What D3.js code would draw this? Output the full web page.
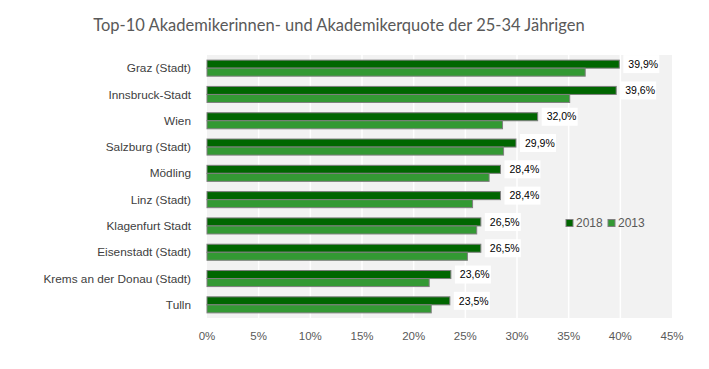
<!DOCTYPE html>
<html lang="de">
  <head>
    <meta charset="utf-8" />
    <style>
      html,
      body {
        margin: 0;
        background: #fff;
      }

      svg {
        display: block;
      }
    </style>
    <script src="https://d3js.org/d3.v7.min.js"></script>
  </head>
  <body>
    <svg width="709" height="369"></svg>

    <script>
      var categories = ['Graz (Stadt)', 'Innsbruck-Stadt', 'Wien', 'Salzburg (Stadt)', 'Mödling',
        'Linz (Stadt)', 'Klagenfurt Stadt', 'Eisenstadt (Stadt)', 'Krems an der Donau (Stadt)', 'Tulln'];
      var values2018 = [39.9, 39.6, 32.0, 29.9, 28.4, 28.4, 26.5, 26.5, 23.6, 23.5];
      var values2013 = [36.6, 35.1, 28.6, 28.7, 27.3, 25.7, 26.1, 25.2, 21.5, 21.7];
      var series = ['2018', '2013'];
      var xTicks = [0, 5, 10, 15, 20, 25, 30, 35, 40, 45];

      var colors = { '2018': '#006600', '2013': '#339933' };

      var svg = d3.select('svg'),
        margin = { top: 55, right: 37, bottom: 51, left: 207 },
        width = +svg.attr('width') - margin.left - margin.right,
        height = +svg.attr('height') - margin.top - margin.bottom;

      var fmt = function(v) { return v.toFixed(1).replace('.', ',') + '%'; };

      var x = d3.scaleLinear().domain([0, 45]).range([0, width]);
      var y = d3.scaleBand().domain(categories).range([0, height]).paddingInner(0.39).paddingOuter(0.195);
      var ySub = d3.scaleBand().domain(series).range([0, y.bandwidth()]);

      var g = svg.append('g')
        .attr('transform', 'translate(' + margin.left + ',' + margin.top + ')');

      // plot background + gridlines
      g.append('rect')
        .attr('width', width)
        .attr('height', height)
        .attr('fill', '#f2f2f2');

      g.selectAll('.grid')
        .data(xTicks.slice(1, -1))
        .enter().append('line')
        .attr('x1', function(d) { return x(d); })
        .attr('x2', function(d) { return x(d); })
        .attr('y1', 0)
        .attr('y2', height)
        .attr('stroke', '#fff')
        .attr('stroke-width', 1.5);

      // title
      svg.append('text')
        .attr('x', 339)
        .attr('y', 31)
        .attr('text-anchor', 'middle')
        .attr('fill', '#595959')
        .style('font-family', 'Lato, sans-serif')
        .style('font-size', '16.5px')
        .text('Top-10 Akademikerinnen- und Akademikerquote der 25-34 Jährigen');

      // bars
      var rows = categories.map(function(c, i) {
        return { cat: c, vals: [{ s: '2018', v: values2018[i] }, { s: '2013', v: values2013[i] }] };
      });

      var row = g.selectAll('.row')
        .data(rows)
        .enter().append('g')
        .attr('transform', function(d) { return 'translate(0,' + y(d.cat) + ')'; });

      row.selectAll('rect')
        .data(function(d) { return d.vals; })
        .enter().append('rect')
        .attr('x', 0)
        .attr('y', function(d) { return ySub(d.s); })
        .attr('width', function(d) { return x(d.v); })
        .attr('height', ySub.bandwidth())
        .attr('fill', function(d) { return colors[d.s]; })
        .attr('stroke', '#7f7f7f')
        .attr('stroke-width', 1);

      // value labels for 2018
      var lab = row.append('g')
        .attr('transform', function(d) {
          return 'translate(' + (x(d.vals[0].v) + 4) + ',' + (ySub('2018') + ySub.bandwidth() / 2) + ')';
        });

      lab.append('rect')
        .attr('x', 0)
        .attr('y', -9)
        .attr('width', 36)
        .attr('height', 18)
        .attr('fill', '#fff');

      lab.append('text')
        .attr('x', 5)
        .attr('dy', '0.35em')
        .attr('fill', '#000')
        .style('font-family', '"Liberation Sans", sans-serif')
        .style('font-size', '10.5px')
        .text(function(d) { return fmt(d.vals[0].v); });

      // category labels
      g.selectAll('.cat')
        .data(categories)
        .enter().append('text')
        .attr('x', -16)
        .attr('y', function(d) { return y(d) + y.bandwidth() / 2; })
        .attr('dy', '0.35em')
        .attr('text-anchor', 'end')
        .attr('fill', '#404040')
        .style('font-family', '"Liberation Sans", sans-serif')
        .style('font-size', '11.8px')
        .text(function(d) { return d; });

      // x axis tick labels
      g.selectAll('.tick')
        .data(xTicks)
        .enter().append('text')
        .attr('x', function(d) { return x(d); })
        .attr('y', height + 22)
        .attr('text-anchor', 'middle')
        .attr('fill', '#595959')
        .style('font-family', '"Liberation Sans", sans-serif')
        .style('font-size', '11.5px')
        .text(function(d) { return d + '%'; });

      // legend
      var leg = svg.append('g').attr('transform', 'translate(566,219.5)');
      var li = leg.selectAll('g')
        .data(series)
        .enter().append('g')
        .attr('transform', function(d, i) { return 'translate(' + (i * 42) + ',0)'; });

      li.append('rect')
        .attr('width', 7)
        .attr('height', 7)
        .attr('fill', function(d) { return colors[d]; })
        .attr('stroke', '#7f7f7f');

      li.append('text')
        .attr('x', 10)
        .attr('y', 3.5)
        .attr('dy', '0.35em')
        .attr('fill', '#595959')
        .style('font-family', '"Liberation Sans", sans-serif')
        .style('font-size', '12px')
        .text(function(d) { return d; });
    </script>
  </body>
</html>
